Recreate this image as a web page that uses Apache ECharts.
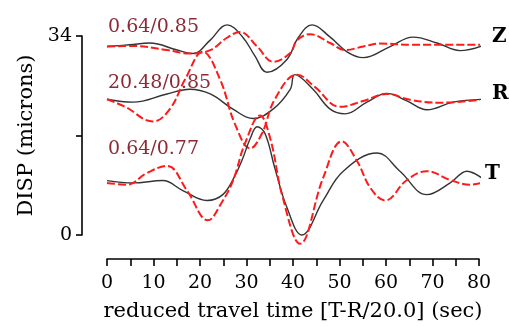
<!DOCTYPE html>
<html>
<head>
<meta charset="utf-8">
<script src="https://cdn.jsdelivr.net/npm/echarts@6/dist/echarts.min.js"></script>
<style>
  html, body { margin: 0; padding: 0; background: #fff; }
  #main { width: 509px; height: 327px; }
</style>
</head>
<body>
<div id="main"></div>
<script>
// [time (sec), displacement (microns)]
var zData = [[0,32.2],[4.9,32.5],[9.2,32.8],[15.1,31.6],[18.5,31.0],[22.2,33.3],[25.8,35.9],[29.2,33.8],[31.8,30.6],[34.4,27.8],[38.7,30.0],[41.1,33.7],[44.1,35.9],[48.0,33.8],[51.6,31.3],[55.1,30.3],[60.9,32.2],[65.8,33.8],[71.0,32.8],[75.9,31.5],[81.3,32.5]];
var zSynth = [[0,32.2],[5.6,32.3],[12.9,31.6],[17.8,31.0],[22.2,31.6],[25.8,33.7],[28.6,34.7],[32.3,32.2],[35.7,29.6],[39.4,31.1],[40.9,33.3],[43.7,34.3],[48.0,32.8],[51.2,31.6],[55.1,32.2],[58.7,32.7],[65.8,32.5],[81.3,32.5]];
var rData = [[0,23.2],[5.6,22.7],[12.9,24.1],[17.8,24.9],[22.2,24.1],[27.1,21.5],[31.4,19.9],[35.7,21.5],[39.4,24.9],[40.4,27.4],[44.3,24.9],[48.0,21.5],[51.2,20.7],[55.9,22.7],[60.2,24.2],[64.5,22.9],[68.8,21.4],[74.4,22.7],[81.3,23.2]];
var rSynth = [[0,23.2],[3.9,21.9],[9.9,19.4],[13.5,21.5],[16.8,26.6],[20.6,31.3],[24.3,26.6],[27.5,19.0],[30.8,14.8],[33.3,17.3],[36.1,23.2],[40.9,27.4],[44.7,25.3],[50.1,21.9],[55.1,22.9],[60.2,24.1],[65.2,23.1],[71.6,22.6],[81.3,23.2]];
var tData = [[0,9.3],[5.6,8.9],[12.0,9.3],[16.3,7.6],[21.5,5.9],[24.9,6.9],[27.5,10.1],[29.2,13.1],[30.8,16.5],[32.3,18.5],[34.0,17.3],[36.1,11.4],[38.7,4.7],[41.9,0],[46.5,5.9],[50.8,10.9],[58.1,14.0],[63.0,10.9],[68.8,6.9],[73.8,8.9],[77.4,10.9],[81.3,9.3]];
var tSynth = [[0,8.9],[4.3,8.6],[8.6,10.6],[12.9,11.8],[17.2,7.6],[21.7,2.5],[24.7,5.6],[27.1,9.3],[29.7,15.7],[32.9,20.4],[35.1,16.5],[37.8,6.4],[41.5,-1.5],[46.5,9.8],[50.5,16.0],[53.8,12.6],[56.6,8.1],[59.8,5.9],[64.5,9.4],[68.8,10.9],[73.8,9.4],[78.1,8.6],[81.3,9.1]];

var fitLabels = ['0.64/0.85', '20.48/0.85', '0.64/0.77'];
var compLabels = ['Z', 'R', 'T'];
var yTickLabels = { 0: '0', 34: '34' };

var font = 'DejaVu Serif';
var myChart = echarts.init(document.getElementById('main'));

function dataLine(d) {
    return { type: 'line', data: d, smooth: 0.4, showSymbol: false, clip: false,
             lineStyle: { color: '#333', width: 1.4 } };
}
function synthLine(d) {
    return { type: 'line', data: d, smooth: 0.4, showSymbol: false, clip: false,
             lineStyle: { color: '#ff1a1a', width: 2, type: [8, 3] } };
}

var textItems = [];
var fitPos = [[108, 18], [108, 74], [108, 140]];
fitLabels.forEach(function (s, i) {
    textItems.push({ type: 'text', left: fitPos[i][0], top: fitPos[i][1],
        style: { text: s, fill: '#8c2a35', font: '19px "DejaVu Serif"' } });
});
var compPos = [[492, 27], [492, 84], [485, 164]];
compLabels.forEach(function (s, i) {
    textItems.push({ type: 'text', left: compPos[i][0], top: compPos[i][1],
        style: { text: s, fill: '#000', font: 'bold 20px "DejaVu Serif"' } });
});

myChart.setOption({
    animation: false,
    grid: { left: 107, right: 30, top: 36, bottom: 89 },
    xAxis: {
        type: 'value', min: 0, max: 80, interval: 10, offset: 24,
        name: 'reduced travel time [T-R/20.0] (sec)', nameLocation: 'middle', nameGap: 42,
        nameTextStyle: { fontFamily: font, fontSize: 21, color: '#000' },
        axisLine: { onZero: false, lineStyle: { color: '#000', width: 1.6 } },
        axisTick: { length: 7, lineStyle: { color: '#000', width: 1.6 } },
        minorTick: { show: true, splitNumber: 2, length: 7, lineStyle: { color: '#000', width: 1.6 } },
        axisLabel: { fontFamily: font, fontSize: 19, color: '#000', margin: 15 },
        splitLine: { show: false }
    },
    yAxis: {
        type: 'value', min: 0, max: 34, interval: 17, offset: 25,
        name: 'DISP (microns)', nameLocation: 'middle', nameGap: 44, nameRotate: 90,
        nameTextStyle: { fontFamily: font, fontSize: 21, color: '#000' },
        axisLine: { show: true, onZero: false, lineStyle: { color: '#000', width: 1.6 } },
        axisTick: { show: true, length: 6, lineStyle: { color: '#000', width: 1.6 } },
        axisLabel: { fontFamily: font, fontSize: 19, color: '#000', margin: 10,
            formatter: function (v) { return yTickLabels[v] || ''; } },
        splitLine: { show: false }
    },
    graphic: textItems,
    series: [
        dataLine(zData), synthLine(zSynth),
        dataLine(rData), synthLine(rSynth),
        dataLine(tData), synthLine(tSynth)
    ]
});
</script>
</body>
</html>
